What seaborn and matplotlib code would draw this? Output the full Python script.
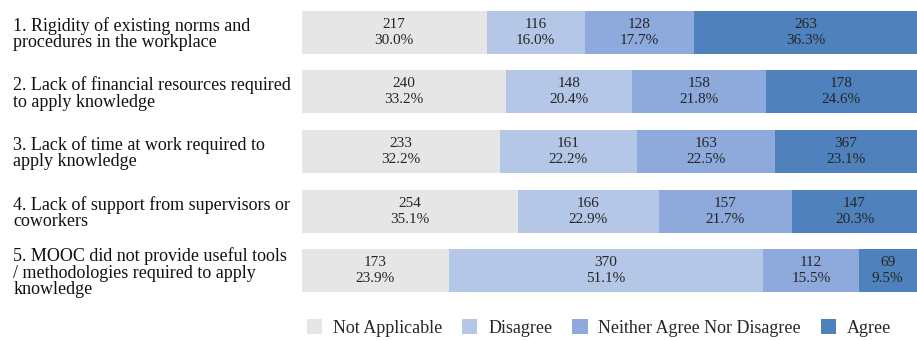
import matplotlib
matplotlib.use("Agg")
import matplotlib.pyplot as plt
import seaborn as sns
import numpy as np
import pandas as pd
from matplotlib.patches import Patch

# Survey items (barriers to applying MOOC knowledge at work)
items = [
    "1. Rigidity of existing norms and\nprocedures in the workplace",
    "2. Lack of financial resources required\nto apply knowledge",
    "3. Lack of time at work required to\napply knowledge",
    "4. Lack of support from supervisors or\ncoworkers",
    "5. MOOC did not provide useful tools\n/ methodologies required to apply\nknowledge",
]
responses = ["Not Applicable", "Disagree", "Neither Agree Nor Disagree", "Agree"]

# Respondent counts per response
not_applicable_n = [217, 240, 233, 254, 173]
disagree_n = [116, 148, 161, 166, 370]
neither_n = [128, 158, 163, 157, 112]
agree_n = [263, 178, 367, 147, 69]

# Share of respondents per response (%)
not_applicable_pct = [30.0, 33.2, 32.2, 35.1, 23.9]
disagree_pct = [16.0, 20.4, 22.2, 22.9, 51.1]
neither_pct = [17.7, 21.8, 22.5, 21.7, 15.5]
agree_pct = [36.3, 24.6, 23.1, 20.3, 9.5]

colors = ["#E7E6E6", "#B4C7E7", "#8EA9DB", "#4F81BD"]

sns.set_theme(style="white")
plt.rcParams["font.family"] = ["Liberation Serif", "DejaVu Serif"]

counts = [not_applicable_n, disagree_n, neither_n, agree_n]
pcts = [not_applicable_pct, disagree_pct, neither_pct, agree_pct]

df = pd.DataFrame({"item": items})
cum = np.cumsum(np.array(pcts), axis=0)
for k, r in enumerate(responses):
    df[r] = cum[k]

fig = plt.figure(figsize=(9.17, 3.40), dpi=100)
ax = fig.add_axes([302 / 917, 1 - 300.75 / 340, 1 - 302 / 917, (300.75 - 2.25) / 340])

# Stacked bars: draw cumulative totals from the outermost segment inwards
for k in range(len(responses) - 1, -1, -1):
    sns.barplot(data=df, x=responses[k], y="item", color=colors[k],
                orient="h", width=0.72, ax=ax, saturation=1, linewidth=0)

# Segment annotations: count and share
for i in range(len(items)):
    left = 0.0
    for k in range(len(responses)):
        w = pcts[k][i]
        ax.text(left + w / 2, i, f"{counts[k][i]}\n{w:.1f}%", ha="center",
                va="center", fontsize=11, color="#262626", linespacing=1.3)
        left += w

ax.set_xlim(0, 100)
ax.set_ylim(4.5, -0.5)
ax.set_xlabel("")
ax.set_ylabel("")
ax.set_xticks([])
for s in ax.spines.values():
    s.set_visible(False)

ax.tick_params(axis="y", length=0, pad=208, labelsize=13)
for lab in ax.get_yticklabels():
    lab.set_horizontalalignment("left")
    lab.set_linespacing(0.95)
    lab.set_color("#111111")

handles = [Patch(facecolor=c, edgecolor="none") for c in colors]
fig.legend(handles, responses, loc="center", bbox_to_anchor=(599 / 917, 1 - 328 / 340),
           ncol=4, frameon=False, fontsize=13, handlelength=0.85, handleheight=0.85,
           handletextpad=0.6, columnspacing=1.1, borderaxespad=0)

fig.savefig("out.png", dpi=100)
